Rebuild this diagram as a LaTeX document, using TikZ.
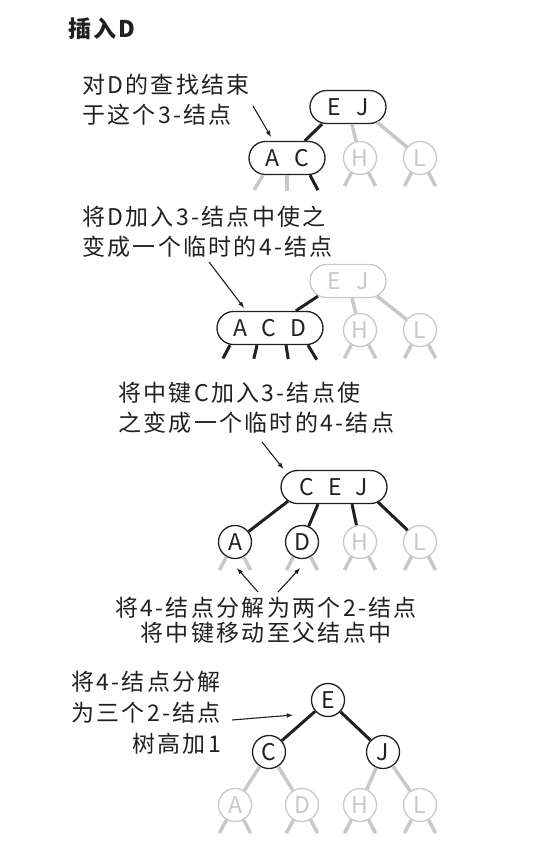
\documentclass[tikz,border=0pt]{standalone}
\usepackage{fontspec}
\setmainfont[LetterSpace=10]{Noto Sans CJK SC}
\newfontfamily\keyfont{Noto Sans CJK SC}

\definecolor{ink}{HTML}{231F20}
\definecolor{faded}{HTML}{C8C8C8}

\tikzset{
  key/.style={circle, draw=ink, text=ink, line width=1.3pt, minimum size=33pt, inner sep=0pt, font=\keyfont\fontsize{23}{25}\selectfont},
  keys/.style={rectangle, draw=ink, text=ink, line width=1.3pt, rounded corners=16.5pt, minimum height=33pt, inner sep=0pt, font=\keyfont\fontsize{23}{25}\selectfont},
  ghost/.style={draw=faded, text=faded},
  link/.style={draw=ink, line width=3pt},
  glink/.style={draw=faded, line width=3.5pt},
  note/.style={text=ink, inner sep=0pt},
  pointer/.style={-latex, draw=ink, line width=1.1pt}
}

\begin{document}
\begin{tikzpicture}[x=1pt, y=-1pt, font=\fontsize{23}{30}\selectfont]
\useasboundingbox (0,0) rectangle (548,868);

% Title
\node[note, anchor=west] (title) at (68,29) {\bfseries 插入D};

% Step 1: the search for D ends at the 3-node
\node[note, anchor=west, align=left] (t1) at (82,100) {对D的查找结束\\于这个3-结点};
\node[keys, minimum width=76pt] (ej1) at (348,107) {E\hspace{15pt}J};
\node[keys, minimum width=76pt] (ac1) at (287,158) {A\hspace{15pt}C};
\node[key, ghost] (h1) at (360,158) {H};
\node[key, ghost] (l1) at (420,158) {L};
\draw[link] ([xshift=-26pt]ej1.south) -- (ac1);
\draw[glink] ([xshift=4pt]ej1.south) -- (h1);
\draw[glink] ([xshift=29pt,yshift=2pt]ej1.south) -- (l1);
\draw[glink] ([xshift=-24pt]ac1.south) -- ++(-121:17pt);
\draw[glink] (ac1.south) -- ++(-90:16pt);
\draw[link] ([xshift=23pt]ac1.south) -- ++(-62:17pt);
\foreach \n in {h1,l1}
  \draw[glink] (\n.-120) -- ++(-118:15pt) (\n.-60) -- ++(-62:15pt);
\coordinate (p1) at (253,106);
\draw[pointer] (p1) -- ([xshift=-16pt,yshift=4pt]ac1.north);

% Step 2: D goes into the 3-node, which becomes a 4-node
\node[note, anchor=west, align=left] (t2) at (82,232) {将D加入3-结点中使之\\变成一个临时的4-结点};
\node[keys, ghost, minimum width=76pt] (ej2) at (348,281) {E\hspace{15pt}J};
\node[keys, minimum width=106pt] (acd2) at (270,328) {A\hspace{14pt}C\hspace{14pt}D};
\node[key, ghost] (h2) at (360,330) {H};
\node[key, ghost] (l2) at (420,330) {L};
\draw[link] ([xshift=-30pt,yshift=2pt]ej2.south) -- (acd2);
\draw[glink] ([xshift=4pt]ej2.south) -- (h2);
\draw[glink] ([xshift=29pt,yshift=2pt]ej2.south) -- (l2);
\draw[link] ([xshift=-40pt]acd2.south) -- ++(-118:15pt);
\draw[link] ([xshift=-13pt]acd2.south) -- ++(-103:14pt);
\draw[link] ([xshift=16pt]acd2.south) -- ++(-81:14pt);
\draw[link] ([xshift=38pt]acd2.south) -- ++(-59:17pt);
\foreach \n in {h2,l2}
  \draw[glink] (\n.-120) -- ++(-118:15pt) (\n.-60) -- ++(-62:15pt);
\coordinate (p2) at (209,262);
\draw[pointer] (p2) -- ([xshift=-26pt,yshift=3pt]acd2.north);

% Step 3: the middle key C moves up into the parent
\node[note, anchor=west, align=left] (t3) at (118,408) {将中键C加入3-结点使\\之变成一个临时的4-结点};
\node[keys, minimum width=106pt] (cej3) at (334,487) {C\hspace{14pt}E\hspace{14pt}J};
\node[key] (a3) at (235,542) {A};
\node[key] (d3) at (302,542) {D};
\node[key, ghost] (h3) at (360,542) {H};
\node[key, ghost] (l3) at (420,542) {L};
\draw[link] ([xshift=-46pt,yshift=3pt]cej3.south) -- (a3);
\draw[link] ([xshift=-16pt]cej3.south) -- (d3);
\draw[link] ([xshift=18pt]cej3.south) -- (h3);
\draw[link] ([xshift=44pt,yshift=2pt]cej3.south) -- (l3);
\foreach \n in {a3,d3,h3,l3}
  \draw[glink] (\n.-120) -- ++(-118:15pt) (\n.-60) -- ++(-62:15pt);
\coordinate (p3) at (262,442);
\draw[pointer] (p3) -- ([shift={(3pt,1pt)}]cej3.north west);
\node[note, align=center, font=\fontsize{23}{25}\selectfont] (t4) at (266,620) {将4-结点分解为两个2-结点\\将中键移动至父结点中};
\coordinate (q1) at (258,592);
\coordinate (q2) at (278,592);
\draw[pointer] (q1) -- ([shift={(2pt,-9pt)}]a3.south);
\draw[pointer] (q2) -- ([shift={(-2pt,-9pt)}]d3.south);

% Step 4: the 4-node splits into three 2-nodes
\node[note, anchor=east, align=right, font=\fontsize{23}{31}\selectfont] (t5) at (221,713) {将4-结点分解\\为三个2-结点\\树高加1};
\node[key] (e4) at (328,700) {E};
\node[key] (c4) at (269,752) {C};
\node[key] (j4) at (383,752) {J};
\node[key, ghost] (a4) at (235,805) {A};
\node[key, ghost] (d4) at (302,805) {D};
\node[key, ghost] (h4) at (360,805) {H};
\node[key, ghost] (l4) at (420,805) {L};
\draw[link] (e4) -- (c4);
\draw[link] (e4) -- (j4);
\draw[glink] (c4) -- (a4);
\draw[glink] (c4) -- (d4);
\draw[glink] (j4) -- (h4);
\draw[glink] (j4) -- (l4);
\foreach \n in {a4,d4,h4,l4}
  \draw[glink] (\n.-120) -- ++(-118:15pt) (\n.-60) -- ++(-62:15pt);
\coordinate (p5) at (232,720);
\draw[pointer] (p5) -- ([shift={(-18pt,-15pt)}]e4.west);

\end{tikzpicture}
\end{document}
